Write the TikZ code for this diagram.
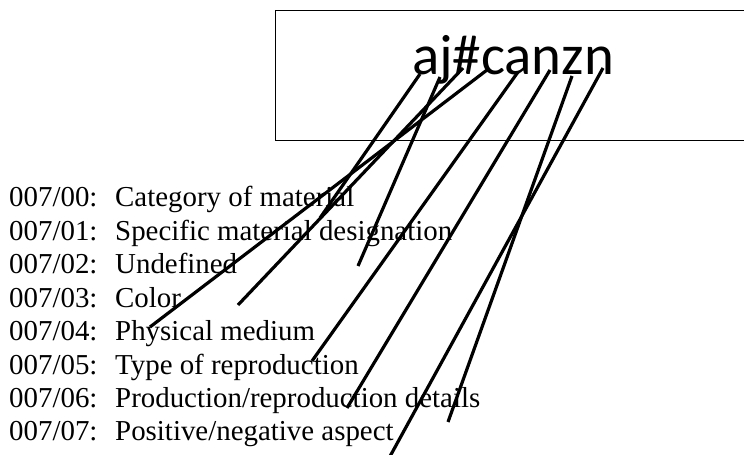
\documentclass[tikz,border=0pt]{standalone}
\usepackage{fontspec}
\setmainfont{Liberation Serif}
\newfontfamily\titlefont{Carlito}
\begin{document}
\begin{tikzpicture}[x=1bp,y=-1bp,
  lbl/.style={anchor=base west,inner sep=0pt,font=\fontsize{29}{33}\selectfont},
  conn/.style={line width=3.2bp,black},
  frame/.style={line width=1bp,black}]
\useasboundingbox (0,0) rectangle (744,455);
\draw[frame] (746,11) -- (275,11) -- (275,141) -- (746,141);
\node[anchor=base,inner sep=0pt,font=\titlefont\fontsize{57}{60}\selectfont] (title) at (513,75) {aj\#canzn};
\foreach \i/\t [count=\k from 0] in {00/{Category of material},01/{Specific material designation},02/{Undefined},03/{Color},04/{Physical medium},05/{Type of reproduction},06/{Production/reproduction details},07/{Positive/negative aspect}}{
  \node[lbl] (r\k) at (9,{207+33.4*\k}) {\makebox[106bp][l]{007/\i:}\t};
}
\coordinate (t1) at (420,74);
\coordinate (t2) at (440,77);
\coordinate (t3) at (463,68);
\coordinate (t4) at (487,70);
\coordinate (t5) at (518,72);
\coordinate (t6) at (550,70);
\coordinate (t7) at (572,76);
\coordinate (t8) at (603,68);
\coordinate (e1) at (320,218);
\coordinate (e2) at (358,266);
\coordinate (e3) at (238,305);
\coordinate (e4) at (150,327);
\coordinate (e5) at (312,361);
\coordinate (e6) at (347,408);
\coordinate (e7) at (448,422);
\coordinate (e8) at (388,460);
\foreach \n in {1,...,8}{\draw[conn] (t\n) -- (e\n);}
\end{tikzpicture}
\end{document}
